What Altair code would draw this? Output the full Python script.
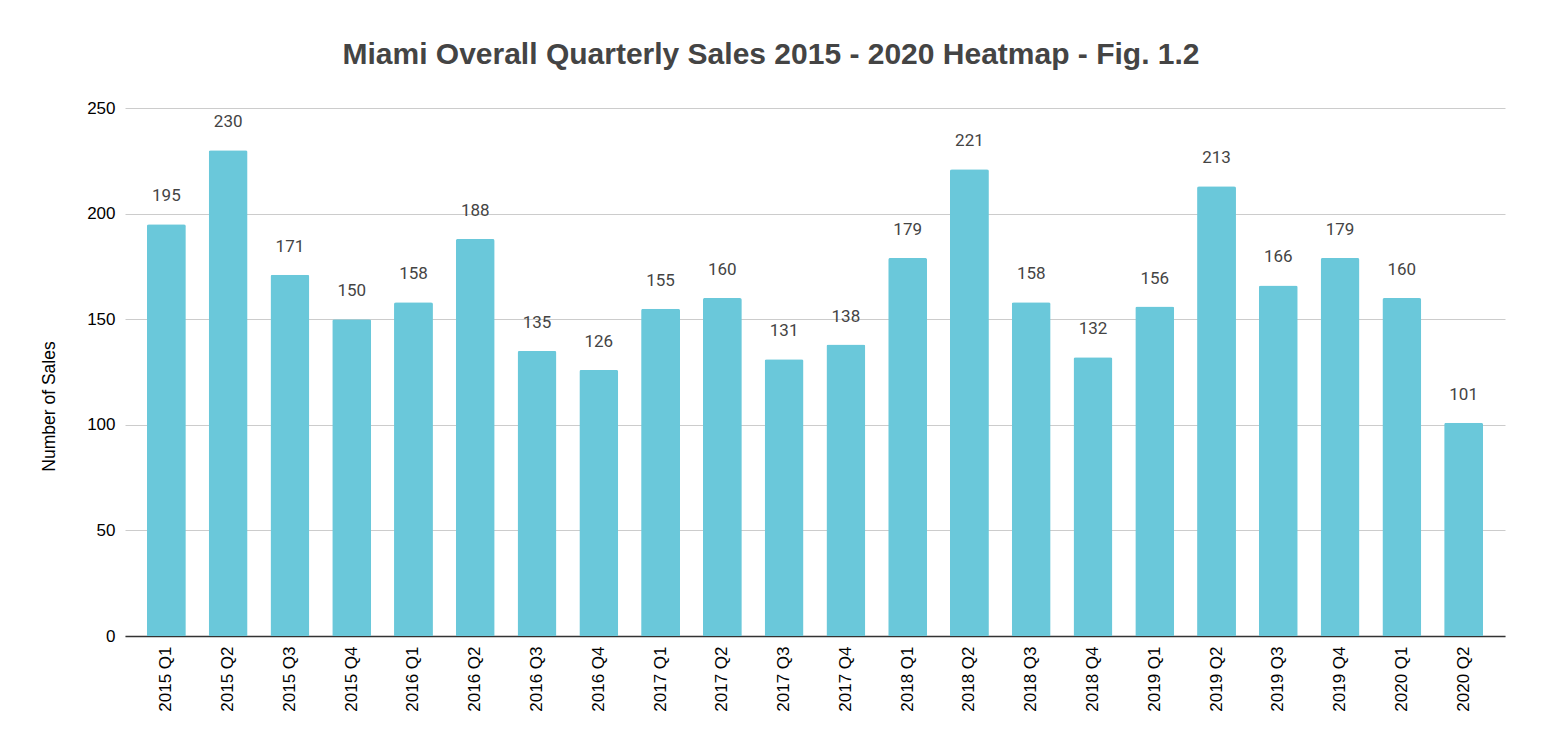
import altair as alt
import pandas as pd

quarters = ["2015 Q1", "2015 Q2", "2015 Q3", "2015 Q4",
            "2016 Q1", "2016 Q2", "2016 Q3", "2016 Q4",
            "2017 Q1", "2017 Q2", "2017 Q3", "2017 Q4",
            "2018 Q1", "2018 Q2", "2018 Q3", "2018 Q4",
            "2019 Q1", "2019 Q2", "2019 Q3", "2019 Q4",
            "2020 Q1", "2020 Q2"]
sales = [195, 230, 171, 150, 158, 188, 135, 126, 155, 160, 131, 138,
         179, 221, 158, 132, 156, 213, 166, 179, 160, 101]
y_ticks = [0, 50, 100, 150, 200, 250]

df = pd.DataFrame({"quarter": quarters, "sales": sales})

x = alt.X("quarter:N", sort=quarters,
          scale=alt.Scale(paddingInner=0.37, paddingOuter=0.355),
          axis=alt.Axis(title=None, labelAngle=-90, labelFont="Liberation Sans",
                        labelFontSize=17, labelColor="#000000", labelPadding=10,
                        ticks=False, domainColor="#333333", domainWidth=1.3,
                        grid=False))
y = alt.Y("sales:Q", scale=alt.Scale(domain=[0, 250], nice=False),
          axis=alt.Axis(title="Number of Sales", values=y_ticks,
                        labelFont="Liberation Sans", labelFontSize=17,
                        labelColor="#000000", labelPadding=10, ticks=False,
                        domain=False, gridColor="#cccccc", gridWidth=1,
                        titleFont="Liberation Sans", titleFontSize=17.5,
                        titleFontWeight="normal", titleColor="#000000",
                        titleAngle=-90, titleAlign="center",
                        titleBaseline="middle", titleX=-76, titleY=298))

bars = alt.Chart(df).mark_bar(color="#6ac8da", cornerRadiusTopLeft=2,
                              cornerRadiusTopRight=2).encode(x=x, y=y)
labels = alt.Chart(df).mark_text(font="Roboto", fontSize=17, color="#444444",
                                 baseline="alphabetic", dy=-23).encode(
    x=alt.X("quarter:N", sort=quarters), y=alt.Y("sales:Q"), text="sales:Q")

chart = alt.layer(bars, labels).properties(
    width=1380, height=528,
    autosize=alt.AutoSizeParams(type="none"),
    padding={"left": 117, "top": 100, "right": 20, "bottom": 100},
    title=alt.TitleParams("Miami Overall Quarterly Sales 2015 - 2020 Heatmap - Fig. 1.2",
                          font="Liberation Sans", fontSize=30, fontWeight="bold",
                          color="#444444", anchor="middle", dx=-44, offset=29),
).configure_view(stroke=None)

chart.save("out.html", embed_options={"renderer": "svg", "actions": False})
